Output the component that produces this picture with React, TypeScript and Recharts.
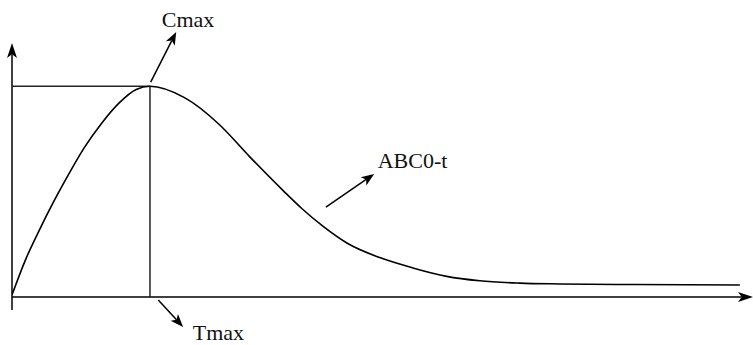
import React from 'react';
import { LineChart, Line, XAxis, YAxis, ReferenceLine, ReferenceDot } from 'recharts';

// time (h) and concentration
const times = [0, 0.2, 0.4, 0.6, 0.8, 1.05, 1.3, 1.55, 1.8, 2, 2.5, 3, 3.45, 3.93, 4.2, 4.51, 4.86, 5.33, 5.81, 6.3, 6.78, 7.36, 7.94, 9, 10.55];
const conc = [1, 18, 32, 45, 57, 71, 82.5, 92, 98.5, 100, 94.6, 82, 66.4, 50.5, 42, 33.5, 25.5, 18.7, 13.8, 9.8, 7.7, 6.6, 6.2, 5.9, 5.7];

const tMax = 2;
const cMax = 100;
const tEnd = 10.74;

const labels = [
  { text: 'Cmax', t: 2.17, c: 128.2 },
  { text: 'ABC0-t', t: 5.3, c: 61.2 },
  { text: 'Tmax', t: 2.62, c: -20.4 },
];

const pointers = [
  { from: [2.01, 102], to: [2.38, 125.8] },
  { from: [4.55, 42.7], to: [5.25, 58.4] },
  { from: [2.12, -1.4], to: [2.48, -14.2] },
];

const data = times.map((t, i) => ({ t, c: conc[i] }));

const arrowShape = (len: number, half: number) => (p: any) => {
  const { x1, y1, x2, y2 } = p;
  const dx = x2 - x1;
  const dy = y2 - y1;
  const d = Math.sqrt(dx * dx + dy * dy) || 1;
  const ux = dx / d;
  const uy = dy / d;
  const bx = x2 - ux * len;
  const by = y2 - uy * len;
  const nx = x2 - ux * len * 0.75;
  const ny = y2 - uy * len * 0.75;
  const pts = [
    [x2, y2],
    [bx - uy * half, by + ux * half],
    [nx, ny],
    [bx + uy * half, by - ux * half],
  ].map((q) => q.join(',')).join(' ');
  return (
    <g>
      <line x1={x1} y1={y1} x2={nx} y2={ny} stroke="#000" strokeWidth={1.5} />
      <polygon points={pts} fill="#000" />
    </g>
  );
};

const plainLine = (p: any) => (
  <line x1={p.x1} y1={p.y1} x2={p.x2} y2={p.y2} stroke="#222" strokeWidth={1.5} />
);

export default function App() {
  return (
    <div style={{ width: 753, height: 345, background: '#fff' }}>
      <style>{'body{margin:0}'}</style>
      <LineChart width={753} height={345} data={data} margin={{ top: 2, right: 0, bottom: 48, left: 12 }}>
        <XAxis type="number" dataKey="t" domain={[0, tEnd]} allowDataOverflow hide />
        <YAxis type="number" domain={[0, 140]} allowDataOverflow hide />

        {/* axes */}
        <ReferenceLine segment={[{ x: 0, y: -6.2 }, { x: 0, y: 120.5 }]} ifOverflow="visible" shape={arrowShape(15, 5)} />
        <ReferenceLine segment={[{ x: 0, y: 0 }, { x: tEnd, y: 0 }]} ifOverflow="visible" shape={arrowShape(15, 5)} />

        {/* Cmax / Tmax guides */}
        <ReferenceLine segment={[{ x: 0, y: cMax }, { x: tMax, y: cMax }]} ifOverflow="visible" shape={plainLine} />
        <ReferenceLine segment={[{ x: tMax, y: 0 }, { x: tMax, y: cMax }]} ifOverflow="visible" shape={plainLine} />

        {pointers.map((a, i) => (
          <ReferenceLine
            key={i}
            segment={[{ x: a.from[0], y: a.from[1] }, { x: a.to[0], y: a.to[1] }]}
            ifOverflow="visible"
            shape={arrowShape(13, 5)}
          />
        ))}

        {labels.map((l) => (
          <ReferenceDot
            key={l.text}
            x={l.t}
            y={l.c}
            ifOverflow="visible"
            shape={(p: any) => (
              <text x={p.cx} y={p.cy} fontFamily="'Liberation Serif', serif" fontSize={22} fill="#111">
                {l.text}
              </text>
            )}
          />
        ))}

        <Line type="monotone" dataKey="c" stroke="#000" strokeWidth={1.6} dot={false} isAnimationActive={false} />
      </LineChart>
    </div>
  );
}
